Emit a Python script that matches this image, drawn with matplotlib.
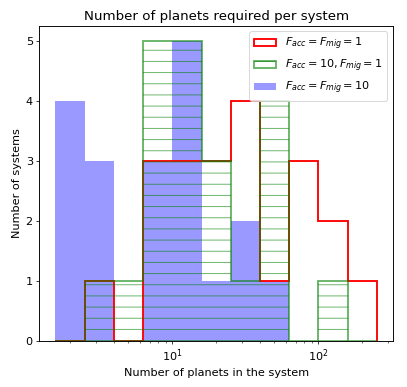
import numpy as np
import matplotlib
matplotlib.use("Agg")
import matplotlib.pyplot as plt

plt.rcParams['font.size'] = 12
plt.rcParams['axes.linewidth'] = 1.0

# log-spaced bin edges (10^0.2 ... 10^2.4)
bin_edges = 10 ** np.arange(0.2, 2.41, 0.2)
bin_centers = np.sqrt(bin_edges[:-1] * bin_edges[1:])

counts_acc1_mig1 = [0, 1, 0, 3, 3, 3, 4, 1, 3, 2, 1]
counts_acc10_mig1 = [0, 1, 1, 5, 5, 3, 1, 4, 0, 1, 0]
counts_acc10_mig10 = [4, 3, 0, 3, 5, 1, 2, 1, 0, 0, 0]

labels = [r'$F_{acc}=F_{mig}=1$', r'$F_{acc}=10, F_{mig}=1$', r'$F_{acc}=F_{mig}=10$']

DPI = 67.2
fig = plt.figure(figsize=(407 / DPI, 387 / DPI), dpi=DPI)
ax = fig.add_axes([0.0966, 0.1189, 0.8690, 0.8147])

ax.hist(bin_centers, bins=bin_edges, weights=counts_acc1_mig1, histtype='step',
        color='red', lw=2, label=labels[0])
ax.hist(bin_centers, bins=bin_edges, weights=counts_acc10_mig1, histtype='step',
        color='green', lw=2, alpha=0.6, hatch='-', label=labels[1])
ax.hist(bin_centers, bins=bin_edges, weights=counts_acc10_mig10, histtype='stepfilled',
        color='blue', alpha=0.4, label=labels[2])

ax.set_xscale('log')
ax.set_title('Number of planets required per system')
ax.set_xlabel('Number of planets in the system')
ax.set_ylabel('Number of systems')
ax.legend(loc='upper right')

fig.savefig('out.png', dpi=DPI)
